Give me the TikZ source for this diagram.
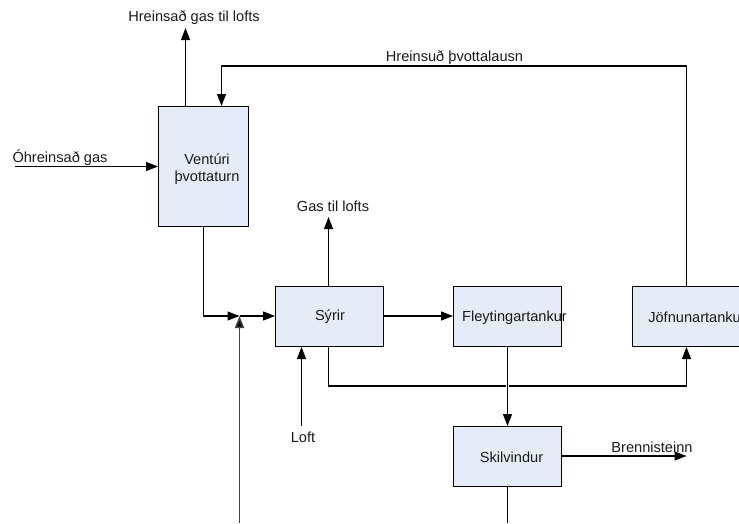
\documentclass[tikz,border=0pt]{standalone}
\usepackage{fontspec}
\setmainfont{Liberation Sans}
\usetikzlibrary{arrows.meta}
\definecolor{boxfill}{HTML}{E6ECF7}
\definecolor{txt}{HTML}{1A1A1A}
\tikzset{
  px/.style={x=1pt,y=-1pt},
  unit/.style={draw=black,line width=1pt,fill=boxfill,anchor=north west,inner sep=0pt},
  lab/.style={text=txt,font=\fontsize{14.6}{17}\selectfont,inner sep=0pt,align=center},
  flow/.style={draw=black,line width=1.2pt,-{Triangle[length=12pt,width=9pt]}},
  plain/.style={draw=black,line width=1.2pt},
}
\begin{document}
\begin{tikzpicture}[px]
\useasboundingbox (0,0) rectangle (739,523);
\clip (0,0) rectangle (739,523);
% free ends
\coordinate (gasin) at (15,166.5);
\coordinate (topout) at (185.5,28);
\coordinate (gasout) at (328.5,217);
\coordinate (mix) at (239.5,316);
\coordinate (botin) at (239.5,523);
\coordinate (loftin) at (301.5,426);
\coordinate (sout) at (686.5,456);
\coordinate (botout) at (507.5,523);
% boxes
\node[unit,minimum width=89.5pt,minimum height=120pt] (vent) at (158,106) {};
\node[unit,minimum width=107.5pt,minimum height=60pt] (syrir) at (275,286) {};
\node[unit,minimum width=107.5pt,minimum height=60pt] (fley) at (453,286) {};
\node[unit,minimum width=130pt,minimum height=60pt] (jofn) at (632,286) {};
\node[unit,minimum width=107.5pt,minimum height=60pt] (skil) at (453,426) {};
% connectors
\draw[flow] (gasin) -- (gasin -| vent.west);
\draw[flow] (vent.north -| topout) -- (topout);
\draw[flow] (jofn.north -| sout) |- (221.5,66) -- (221.5,106);
\draw[flow] (vent.south -| 203.5,0) |- (mix);
\draw[flow] (mix) -- (mix -| syrir.west);
\draw[flow,line width=1.5pt,draw=black!75,-{Triangle[length=12pt,width=9pt,fill=black]}] (botin) -- (mix);
\draw[flow] (syrir.north -| gasout) -- (gasout);
\draw[flow] (syrir.east |- mix) -- (mix -| fley.west);
\draw[flow] (loftin) -- (loftin |- syrir.south);
\draw[flow] (syrir.south -| gasout) |- (686.5,386) -- (jofn.south -| sout);
\draw[white,line width=3.5pt] (507.5,380) -- (507.5,392);
\draw[flow] (fley.south -| botout) -- (skil.north -| botout);
\draw[flow] (skil.east |- sout) -- (sout);
\draw[plain] (skil.south -| botout) -- (botout);
% labels
\node[lab] (l1) at (194,17.5) {Hreinsað gas til lofts};
\node[lab] (l2) at (60,157.5) {Óhreinsað gas};
\node[lab] (l3) at (207,169.5) {Ventúri\\þvottaturn};
\node[lab] (l4) at (454.5,58) {Hreinsuð þvottalausn};
\node[lab] (l5) at (333,206.5) {Gas til lofts};
\node[lab] (l6) at (330,317) {Sýrir};
\node[lab] (l7) at (514.5,317.5) {Fleytingartankur};
\node[lab] (l8) at (697,317.5) {Jöfnunartankur};
\node[lab] (l9) at (303,437) {Loft};
\node[lab] (l10) at (511.5,457) {Skilvindur};
\node[lab] (l11) at (652,447.5) {Brennisteinn};
\end{tikzpicture}
\end{document}
